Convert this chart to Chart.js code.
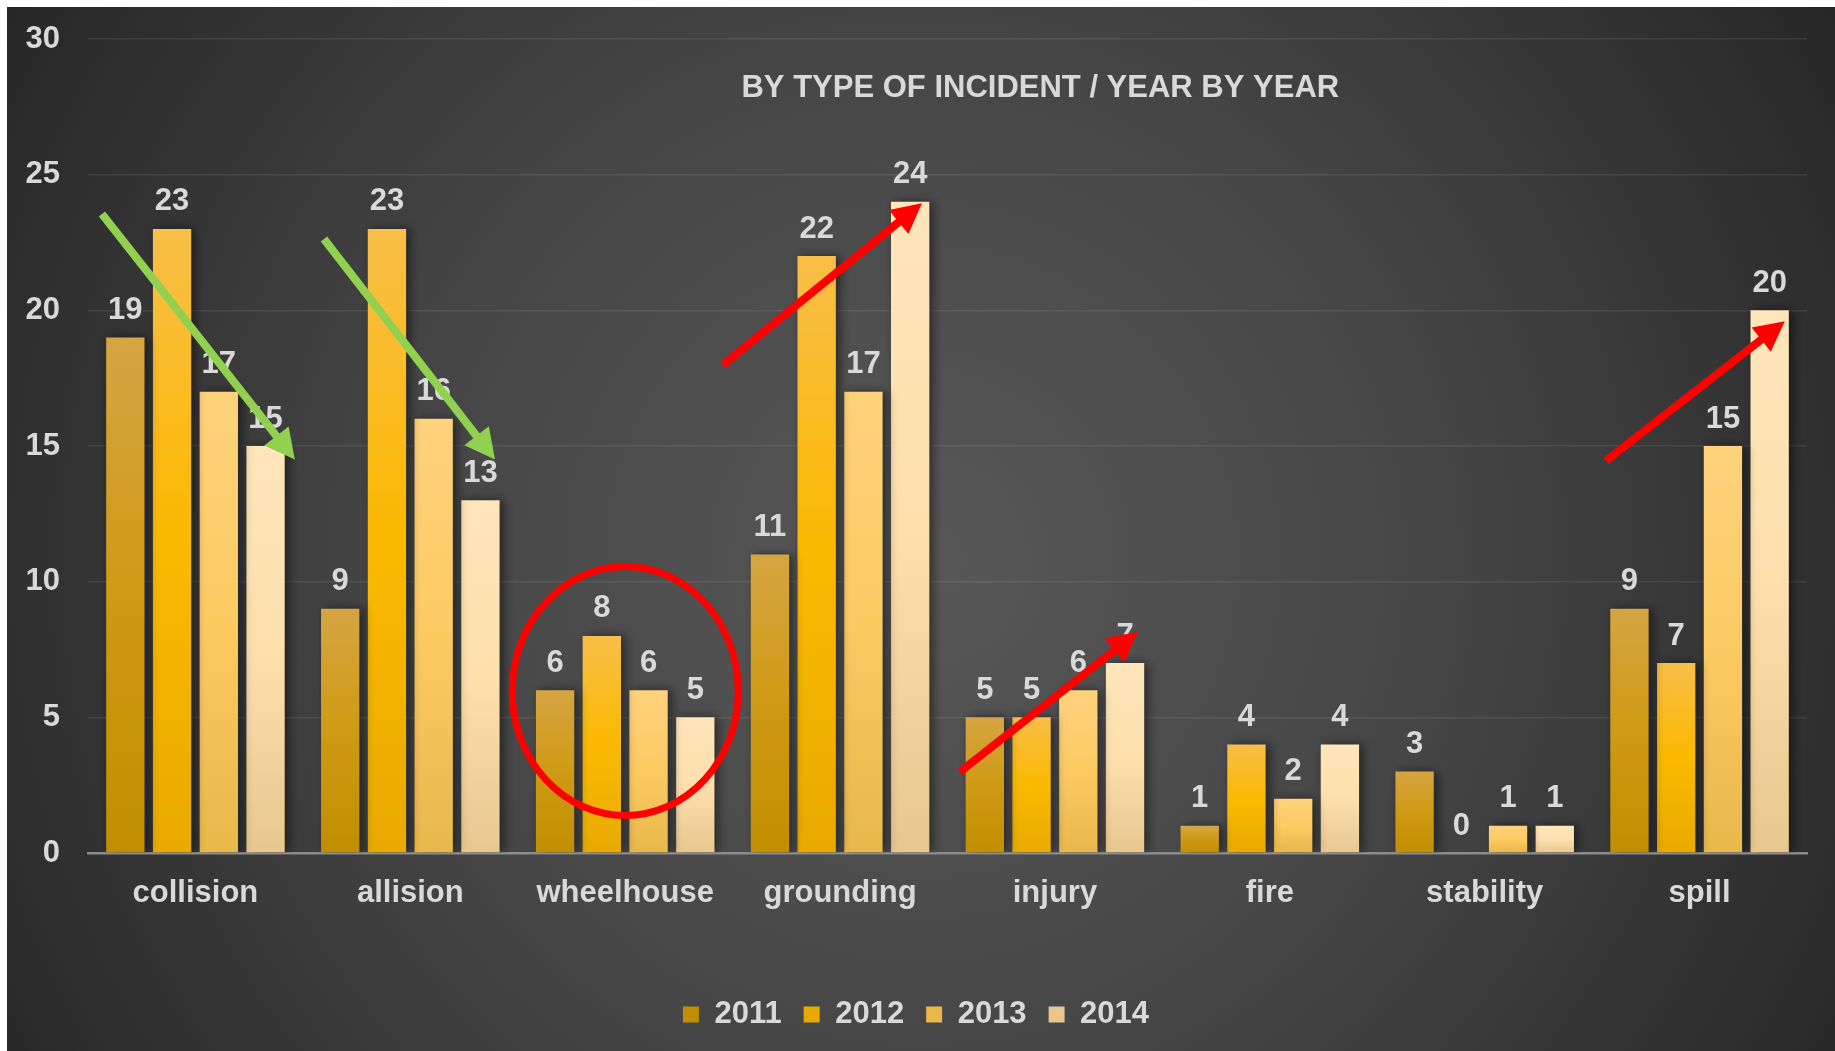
<!DOCTYPE html>
<html lang="en">
<head>
    <meta charset="UTF-8">
    <title>By type of incident / year by year</title>
    <script src="https://cdn.jsdelivr.net/npm/chart.js"></script>
    <style>
        body { margin: 0; background: #fff; }
        #wrap { position: absolute; left: 7px; top: 7px; width: 1828px; height: 1044px; }
    </style>
</head>
<body>
    <div id="wrap"><canvas id="incident-chart"></canvas></div>

    <script>
        // data
        const categories = ['collision', 'allision', 'wheelhouse', 'grounding', 'injury', 'fire', 'stability', 'spill'];
        const years = ['2011', '2012', '2013', '2014'];
        const values2011 = [19, 9, 6, 11, 5, 1, 3, 9];
        const values2012 = [23, 23, 8, 22, 5, 4, 0, 7];
        const values2013 = [17, 16, 6, 17, 6, 2, 1, 15];
        const values2014 = [15, 13, 5, 24, 7, 4, 1, 20];
        const yTicks = [0, 5, 10, 15, 20, 25, 30];

        const FONT = '"Liberation Sans", Arial, sans-serif';
        const TEXT = '#d9d9d9';

        // vertical gradient over each bar's own height
        function barFill(top, mid, bottom) {
            return function (c) {
                const chart = c.chart;
                if (c.type !== 'data' || !chart.chartArea) return mid;
                const y = chart.scales.y;
                const y0 = y.getPixelForValue(0);
                const y1 = y.getPixelForValue(c.parsed.y);
                if (y0 - y1 < 1) return mid;
                const g = chart.ctx.createLinearGradient(0, y1, 0, y0);
                g.addColorStop(0, top);
                g.addColorStop(0.5, mid);
                g.addColorStop(1, bottom);
                return g;
            };
        }

        // background, title, value labels and the hand drawn marks
        const decor = {
            id: 'decor',
            beforeDraw(chart) {
                const ctx = chart.ctx;
                const w = chart.width, h = chart.height;
                const g = ctx.createRadialGradient(w * 0.5, h * 0.53, 0, w * 0.5, h * 0.53, 1060);
                g.addColorStop(0, '#585858');
                g.addColorStop(0.5, '#454545');
                g.addColorStop(1, '#272727');
                ctx.save();
                ctx.fillStyle = g;
                ctx.fillRect(0, 0, w, h);
                ctx.restore();
            },
            beforeDatasetsDraw(chart) {
                const ctx = chart.ctx;
                ctx.save();
                ctx.shadowColor = 'rgba(0,0,0,0.5)';
                ctx.shadowBlur = 10;
                ctx.shadowOffsetX = 4;
            },
            afterDatasetsDraw(chart) {
                const ctx = chart.ctx;
                ctx.restore();
                const area = chart.chartArea;
                const xs = chart.scales.x, ys = chart.scales.y;

                ctx.save();
                ctx.fillStyle = TEXT;
                ctx.font = 'bold 31px ' + FONT;
                ctx.textAlign = 'center';
                ctx.textBaseline = 'middle';
                ctx.fillText('BY TYPE OF INCIDENT / YEAR BY YEAR', area.left + area.width * 0.554, area.top + 49);

                chart.data.datasets.forEach((ds, i) => {
                    chart.getDatasetMeta(i).data.forEach((bar, j) => {
                        ctx.fillText(String(ds.data[j]), bar.x, bar.y - 27);
                    });
                });

                const px = v => xs.getPixelForValue(v);
                const py = v => ys.getPixelForValue(v);

                function arrow(x1, v1, x2, v2, color) {
                    const ax = px(x1), ay = py(v1), bx = px(x2), by = py(v2);
                    const len = Math.hypot(bx - ax, by - ay);
                    const ux = (bx - ax) / len, uy = (by - ay) / len;
                    const head = 30, half = 15.5;
                    const cx = bx - ux * head, cy = by - uy * head;
                    ctx.strokeStyle = color;
                    ctx.fillStyle = color;
                    ctx.lineWidth = 8;
                    ctx.lineCap = 'butt';
                    ctx.beginPath();
                    ctx.moveTo(ax, ay);
                    ctx.lineTo(cx + ux * 2, cy + uy * 2);
                    ctx.stroke();
                    ctx.beginPath();
                    ctx.moveTo(bx, by);
                    ctx.lineTo(cx - uy * half, cy + ux * half);
                    ctx.lineTo(cx + uy * half, cy - ux * half);
                    ctx.closePath();
                    ctx.fill();
                }

                arrow(-0.435, 23.55, 0.463, 14.5, '#92d050');
                arrow(0.598, 22.63, 1.394, 14.5, '#92d050');
                arrow(2.455, 17.99, 3.381, 23.95, '#ff0000');
                arrow(3.558, 2.99, 4.386, 8.15, '#ff0000');
                arrow(6.564, 14.45, 7.397, 19.6, '#ff0000');

                // ring round the wheelhouse group
                const ex = px(2.0), ey = py(5.97);
                const rx = px(2.526) - ex, ry = ey - py(10.56);
                ctx.strokeStyle = '#ff0000';
                ctx.lineWidth = 7;
                ctx.beginPath();
                ctx.ellipse(ex, ey, rx, ry, 0, 0, Math.PI * 2);
                ctx.stroke();
                ctx.restore();
            }
        };

        const ctx = document.getElementById('incident-chart').getContext('2d');
        const incidentChart = new Chart(ctx, {
            type: 'bar',
            data: {
                labels: categories,
                datasets: [
                    { label: years[0], data: values2011, backgroundColor: barFill('#d6a542', '#cf9a14', '#c18e00') },
                    { label: years[1], data: values2012, backgroundColor: barFill('#f8be48', '#fbb900', '#e9aa00') },
                    { label: years[2], data: values2013, backgroundColor: barFill('#ffd27c', '#fdca62', '#e8b84b') },
                    { label: years[3], data: values2014, backgroundColor: barFill('#ffe5ba', '#fee0ad', '#e8c78f') }
                ]
            },
            options: {
                responsive: true,
                maintainAspectRatio: false,
                animation: false,
                categoryPercentage: 0.87,
                barPercentage: 0.82,
                layout: { padding: { left: 18, right: 28, top: 32, bottom: 11 } },
                scales: {
                    x: {
                        grid: { display: false, drawTicks: false },
                        border: { color: '#8c8c8c', width: 2.5 },
                        ticks: { color: TEXT, font: { family: FONT, size: 31, weight: 'bold' }, padding: 22 },
                        afterFit: scale => { scale.height = 124; }
                    },
                    y: {
                        min: 0,
                        max: 30,
                        afterBuildTicks: scale => { scale.ticks = yTicks.map(v => ({ value: v })); },
                        afterFit: scale => {
                            scale.width = 63;
                            scale.paddingTop = 0;
                            scale.paddingBottom = 0;
                        },
                        grid: { color: 'rgba(255,255,255,0.08)', lineWidth: 1.5, drawTicks: false },
                        border: { display: false },
                        ticks: { color: TEXT, font: { family: FONT, size: 31, weight: 'bold' }, padding: 28 }
                    }
                },
                plugins: {
                    legend: {
                        position: 'bottom',
                        labels: {
                            color: TEXT,
                            boxWidth: 16,
                            boxHeight: 16,
                            padding: 22,
                            font: { family: FONT, size: 31, weight: 'bold' }
                        }
                    },
                    tooltip: { enabled: false }
                }
            },
            plugins: [decor]
        });
    </script>
</body>
</html>
